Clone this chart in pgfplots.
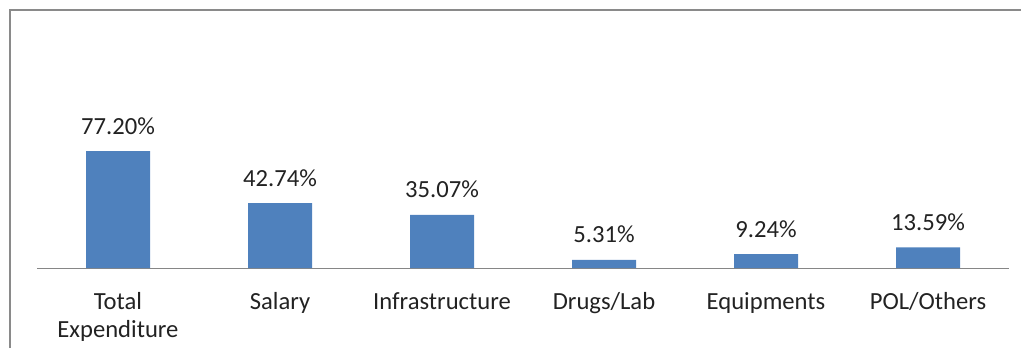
\documentclass[border=0pt]{standalone}
\usepackage{fontspec}
\setmainfont{Carlito}
\usepackage{pgfplots}
\pgfplotsset{compat=1.18}
\definecolor{barblue}{HTML}{4F81BD}
\definecolor{axisgray}{HTML}{868686}
\definecolor{framegray}{HTML}{8A8A8A}
\definecolor{txt}{HTML}{222222}
\begin{document}
\begin{tikzpicture}[x=1bp,y=1bp]
\useasboundingbox (0,0) rectangle (1021,-356);
\draw[framegray, line width=1.5bp] (10,-348) -- (10,-10) -- (1021,-10);
\begin{axis}[
  at={(37bp,-268bp)}, anchor=south west,
  width=972bp, height=242.5bp, scale only axis,
  xmin=-0.5, xmax=5.5, ymin=0, ymax=160,
  axis x line*=bottom, hide y axis,
  x axis line style={draw=axisgray, line width=1bp, -},
  xtick=data,
  xticklabels={{\begin{tabular}[t]{@{}c@{}}Total\\Expenditure\end{tabular}},Salary,Infrastructure,Drugs/Lab,Equipments,POL/Others},
  major tick length=0pt,
  xticklabel style={anchor=base, yshift=-41bp, text=txt,
    font=\fontsize{24.7}{29}\selectfont},
  ybar, bar width=64bp,
  /pgf/number format/assume math mode=true,
  nodes near coords={\pgfmathprintnumber[fixed,fixed zerofill,precision=2]{\pgfplotspointmeta}\%},
  every node near coord/.append style={anchor=base, yshift=17bp, text=txt,
    font=\fontsize{24.7}{29}\selectfont},
]
\addplot[fill=barblue, draw=none] coordinates {(0,77.20) (1,42.74) (2,35.07) (3,5.31) (4,9.24) (5,13.59)};
\end{axis}
\end{tikzpicture}
\end{document}
